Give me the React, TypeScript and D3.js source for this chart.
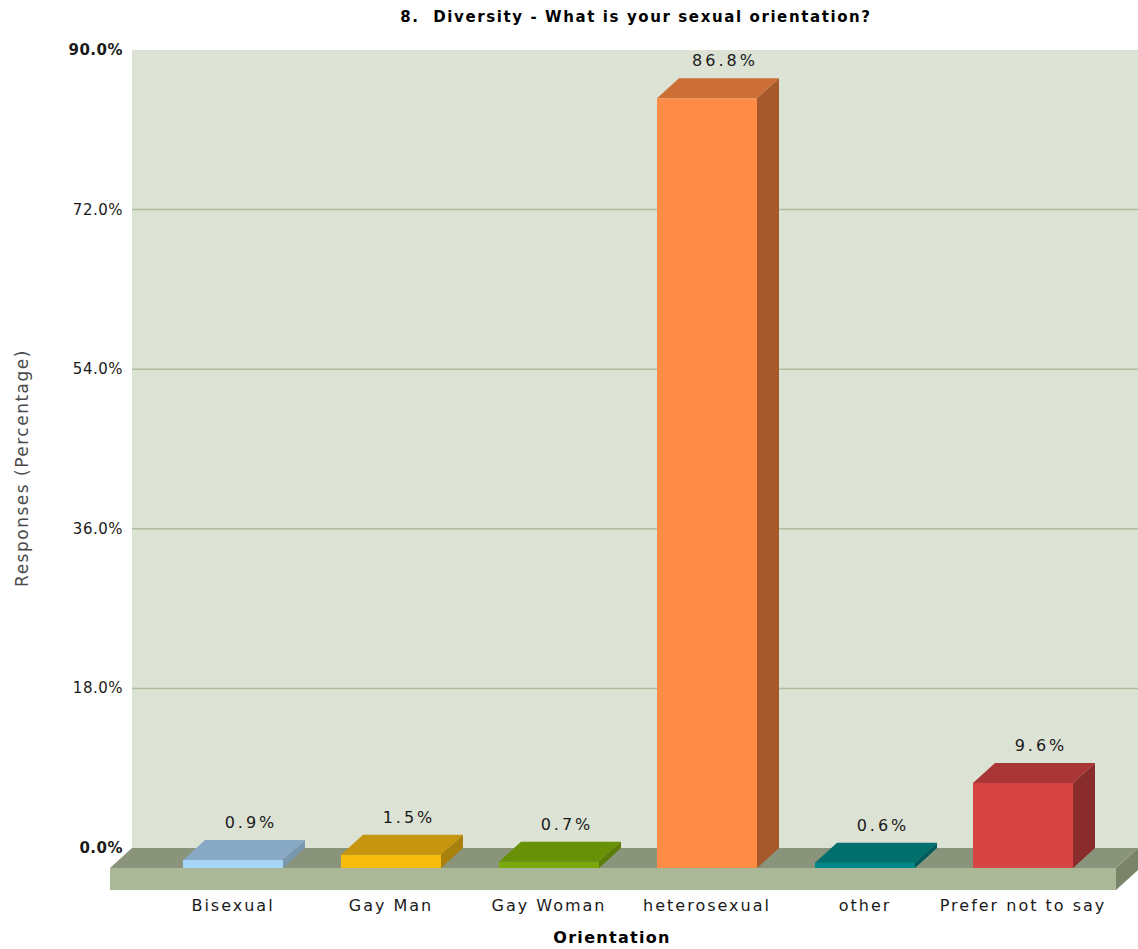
import React from "react";
import * as d3 from "d3";

const categories = ["Bisexual", "Gay Man", "Gay Woman", "heterosexual", "other", "Prefer not to say"];
const values = [0.9, 1.5, 0.7, 86.8, 0.6, 9.6];
const frontColors = ["#a7d5f7", "#f6bc0e", "#7aa80a", "#ff8c46", "#00878a", "#d64444"];
const topColors = ["#88a9c6", "#c6960e", "#699108", "#cc6e36", "#006f6e", "#a83636"];
const sideColors = ["#7a97b0", "#a8800c", "#5a7c08", "#a65a2b", "#005c5c", "#8a2c2c"];
const yTicks = [0, 18, 36, 54, 72, 90];

const W = 1138;
const H = 949;
const DX = 22;
const DY = 20;
const backLeft = 132;
const backRight = 1138;
const backTop = 50;
const backBottom = 848;

export default function App() {
  const y = d3.scaleLinear().domain([0, 90]).range([backBottom, backTop]);
  const x = d3.scaleBand<string>().domain(categories).range([154, 1102]);
  const barW = 100;
  const floorFrontTop = backBottom + DY;
  const floorFrontBottom = floorFrontTop + 22;
  const fmt = (v: number) => v.toFixed(1) + "%";
  const font = "'DejaVu Sans', Verdana, sans-serif";

  return (
    <svg width={W} height={H} style={{ position: "absolute", left: 0, top: 0, background: "#fff" }}>
      <rect x={backLeft} y={backTop} width={backRight - backLeft} height={backBottom - backTop} fill="#dce2d4" />
      {yTicks.map((t) => (
        <g key={t}>
          {t > 0 && t < 90 && (
            <line x1={backLeft} x2={backRight} y1={y(t)} y2={y(t)} stroke="#aebd9e" strokeWidth={1.5} />
          )}
          <text
            x={123}
            y={y(t) + 5}
            textAnchor="end"
            fontFamily={font}
            fontSize={15}
            letterSpacing={0.5}
            fontWeight={t === 0 || t === 90 ? "bold" : "normal"}
            fill="#1a1a1a"
          >
            {fmt(t)}
          </text>
        </g>
      ))}
      {/* floor */}
      <polygon
        points={`${backLeft},${backBottom} ${backRight},${backBottom} ${backRight - DX},${floorFrontTop} ${backLeft - DX},${floorFrontTop}`}
        fill="#8a947a"
      />
      <rect x={backLeft - DX} y={floorFrontTop} width={backRight - backLeft} height={22} fill="#abb897" />
      <polygon
        points={`${backRight - DX},${floorFrontTop} ${backRight},${backBottom} ${backRight},${backBottom + 22} ${backRight - DX},${floorFrontBottom}`}
        fill="#7a8468"
      />
      {/* bars */}
      {categories.map((c, i) => {
        const cx = (x(c) as number) + x.bandwidth() / 2;
        const x0 = cx - barW / 2;
        const x1 = cx + barW / 2;
        const yt = y(values[i]) + DY;
        const yb = floorFrontTop;
        return (
          <g key={c}>
            <rect x={x0} y={yt} width={barW} height={yb - yt} fill={frontColors[i]} />
            <polygon
              points={`${x0},${yt} ${x0 + DX},${yt - DY} ${x1 + DX},${yt - DY} ${x1},${yt}`}
              fill={topColors[i]}
            />
            <polygon
              points={`${x1},${yt} ${x1 + DX},${yt - DY} ${x1 + DX},${yb - DY} ${x1},${yb}`}
              fill={sideColors[i]}
            />
            <text
              x={cx + 18}
              y={yt - DY - 12}
              textAnchor="middle"
              fontFamily={font}
              fontSize={16}
              letterSpacing={3}
              fill="#1a1a1a"
            >
              {fmt(values[i])}
            </text>
            <text
              x={cx}
              y={911}
              textAnchor="middle"
              fontFamily={font}
              fontSize={16}
              letterSpacing={2}
              fill="#1a1a1a"
            >
              {c}
            </text>
          </g>
        );
      })}
      <text
        x={636}
        y={22}
        textAnchor="middle"
        fontFamily={font}
        fontSize={15}
        fontWeight="bold"
        letterSpacing={1.6}
        fill="#000"
        style={{ whiteSpace: "pre" }}
      >
        {"8.  Diversity - What is your sexual orientation?"}
      </text>
      <text x={612} y={943} textAnchor="middle" fontFamily={font} fontSize={16} fontWeight="bold" letterSpacing={1.3} fill="#000">
        Orientation
      </text>
      <text
        transform={`translate(28,468) rotate(-90)`}
        textAnchor="middle"
        fontFamily={font}
        fontSize={17}
        letterSpacing={1.5}
        fill="#4a4a4a"
      >
        Responses (Percentage)
      </text>
    </svg>
  );
}
